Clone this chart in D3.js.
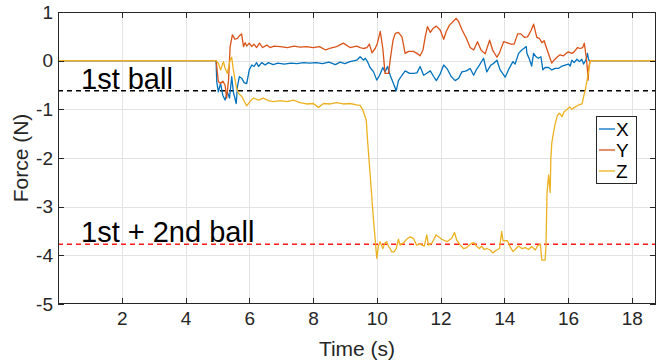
<!DOCTYPE html>
<html>
<head>
<meta charset="utf-8">
<script src="https://cdn.jsdelivr.net/npm/d3@7"></script>
<style>
  html, body { margin: 0; padding: 0; background: #fff; }
  svg { display: block; font-family: "Liberation Sans", Arial, Helvetica, sans-serif; }
</style>
</head>
<body>
<svg id="chart" width="668" height="364"></svg>
<script>
// ---- Data ----
const xTicks = [2, 4, 6, 8, 10, 12, 14, 16, 18];
const yTicks = [1, 0, -1, -2, -3, -4, -5];
const seriesNames = ["X", "Y", "Z"];

const xTime = [0, 4.96, 4.98, 5.03, 5.10, 5.17, 5.24, 5.31, 5.38, 5.45, 5.50, 5.59, 5.63, 5.69, 5.76, 5.84, 5.92, 6.00, 6.08, 6.15, 6.23, 6.29, 6.39, 6.50, 6.60, 6.75, 6.90, 7.10, 7.30, 7.50, 7.70, 7.90, 8.10, 8.30, 8.50, 8.70, 8.85, 9.00, 9.16, 9.37, 9.48, 9.58, 9.64, 9.71, 9.79, 9.90, 10.00, 10.09, 10.19, 10.26, 10.34, 10.42, 10.53, 10.61, 10.68, 10.79, 10.89, 11.03, 11.15, 11.26, 11.36, 11.47, 11.57, 11.68, 11.78, 11.87, 11.99, 12.10, 12.22, 12.33, 12.46, 12.57, 12.67, 12.81, 12.93, 13.04, 13.12, 13.22, 13.35, 13.45, 13.58, 13.66, 13.77, 13.87, 14.03, 14.13, 14.27, 14.34, 14.45, 14.55, 14.69, 14.71, 14.79, 14.86, 14.92, 15.00, 15.07, 15.15, 15.21, 15.28, 15.39, 15.49, 15.60, 15.70, 15.81, 15.91, 16.01, 16.07, 16.12, 16.19, 16.28, 16.36, 16.43, 16.49, 16.57, 16.61, 16.65, 16.69, 18.76];
const xForce = [0, 0, -0.43, -0.64, -0.47, -0.71, -0.81, -0.64, -0.77, -0.33, -0.64, -0.88, -0.53, -0.33, -0.36, -0.45, -0.47, -0.19, -0.09, -0.12, -0.04, -0.12, -0.04, -0.09, -0.04, -0.08, -0.05, -0.07, -0.05, -0.06, -0.04, -0.05, -0.04, -0.06, -0.03, -0.08, -0.03, -0.06, -0.02, 0.01, 0.08, 0.01, 0.05, -0.02, -0.14, -0.23, -0.40, -0.30, -0.14, -0.23, -0.12, -0.30, -0.48, -0.62, -0.41, -0.30, -0.21, -0.26, -0.26, -0.25, -0.12, -0.30, -0.26, -0.21, -0.32, -0.41, -0.27, -0.09, -0.18, -0.32, -0.41, -0.36, -0.23, -0.21, -0.16, -0.30, -0.19, -0.09, 0.05, -0.23, -0.09, -0.06, 0.01, -0.19, -0.34, -0.19, -0.02, -0.07, 0.15, 0.22, 0.29, 0.15, 0.03, -0.11, 0.15, 0.08, 0.05, 0.08, -0.19, -0.14, -0.14, -0.19, -0.16, -0.16, -0.11, -0.09, -0.07, -0.11, 0.01, -0.04, 0.03, -0.02, 0.03, -0.07, 0.03, 0.15, 0.01, 0, 0];

const yTime = [0, 4.96, 5.03, 5.10, 5.17, 5.24, 5.29, 5.35, 5.40, 5.47, 5.55, 5.63, 5.69, 5.76, 5.82, 5.87, 5.92, 6.00, 6.08, 6.15, 6.23, 6.32, 6.42, 6.55, 6.65, 6.78, 6.97, 7.20, 7.40, 7.60, 7.80, 8.00, 8.20, 8.40, 8.55, 8.74, 8.95, 9.16, 9.37, 9.48, 9.58, 9.69, 9.77, 9.85, 9.95, 10.02, 10.11, 10.19, 10.26, 10.37, 10.42, 10.51, 10.58, 10.68, 10.79, 10.89, 11.00, 11.15, 11.26, 11.36, 11.45, 11.52, 11.59, 11.68, 11.76, 11.87, 11.99, 12.10, 12.18, 12.28, 12.39, 12.49, 12.57, 12.67, 12.81, 12.93, 13.04, 13.16, 13.27, 13.40, 13.54, 13.64, 13.77, 13.85, 13.98, 14.08, 14.21, 14.31, 14.42, 14.52, 14.63, 14.73, 14.84, 14.92, 15.02, 15.10, 15.18, 15.25, 15.33, 15.42, 15.49, 15.56, 15.67, 15.75, 15.86, 15.94, 16.01, 16.12, 16.19, 16.30, 16.38, 16.46, 16.51, 16.57, 16.61, 16.63, 16.65, 16.69, 18.76];
const yForce = [0, 0, -0.43, -0.47, -0.42, -0.50, -0.77, -0.40, 0.29, 0.53, 0.44, 0.46, 0.51, 0.55, 0.29, 0.37, 0.30, 0.36, 0.29, 0.34, 0.27, 0.36, 0.27, 0.32, 0.27, 0.30, 0.29, 0.27, 0.30, 0.28, 0.29, 0.27, 0.29, 0.22, 0.26, 0.29, 0.36, 0.27, 0.30, 0.27, 0.25, 0.27, 0.34, 0.16, 0.25, 0.36, 0.60, 0.25, -0.26, -0.26, 0.01, 0.42, 0.56, 0.58, 0.49, 0.15, 0.19, 0.19, 0.15, 0.10, 0.22, 0.49, 0.70, 0.58, 0.66, 0.71, 0.63, 0.44, 0.60, 0.73, 0.80, 0.87, 0.80, 0.64, 0.46, 0.27, 0.22, 0.39, 0.22, 0.14, 0.42, 0.21, 0.07, 0.16, 0.39, 0.37, 0.34, 0.34, 0.55, 0.55, 0.48, 0.49, 0.62, 0.75, 0.48, 0.46, 0.37, 0.41, 0.25, 0.08, -0.05, 0.01, 0.08, 0.12, 0.10, 0.15, 0.18, 0.15, 0.18, 0.27, 0.25, 0.27, 0.36, 0.08, -0.19, -0.40, -0.16, 0, 0];

const zTime = [0, 4.96, 5.03, 5.10, 5.19, 5.24, 5.31, 5.40, 5.45, 5.50, 5.59, 5.66, 5.76, 5.92, 6.02, 6.13, 6.29, 6.44, 6.60, 6.76, 6.97, 7.18, 7.39, 7.59, 7.80, 8.01, 8.17, 8.33, 8.54, 8.74, 8.95, 9.16, 9.37, 9.48, 9.56, 9.67, 9.71, 9.79, 9.89, 10.00, 10.05, 10.10, 10.19, 10.26, 10.31, 10.37, 10.42, 10.47, 10.54, 10.61, 10.68, 10.73, 10.83, 10.94, 11.04, 11.15, 11.25, 11.36, 11.49, 11.57, 11.62, 11.73, 11.86, 11.94, 12.04, 12.20, 12.35, 12.44, 12.51, 12.62, 12.72, 12.82, 12.98, 13.05, 13.14, 13.22, 13.29, 13.37, 13.45, 13.56, 13.64, 13.74, 13.85, 13.92, 13.96, 14.10, 14.18, 14.27, 14.34, 14.45, 14.55, 14.66, 14.76, 14.86, 14.97, 15.04, 15.13, 15.18, 15.28, 15.31, 15.34, 15.39, 15.44, 15.46, 15.49, 15.55, 15.60, 15.67, 15.73, 15.81, 15.88, 15.96, 16.05, 16.12, 16.23, 16.33, 16.44, 16.49, 16.54, 16.59, 16.64, 16.70, 18.76];
const zForce = [0, 0, -0.05, -0.19, -0.02, -0.15, -0.26, 0.01, 0.07, -0.19, -0.53, -0.67, -0.73, -0.93, -0.84, -0.77, -0.81, -0.77, -0.82, -0.84, -0.82, -0.84, -0.81, -0.86, -0.89, -0.88, -0.96, -0.88, -0.89, -0.86, -0.89, -0.88, -0.91, -0.92, -1.01, -1.22, -1.63, -2.32, -3.21, -4.06, -3.82, -3.72, -3.86, -3.74, -3.72, -3.82, -3.86, -3.93, -3.93, -3.86, -3.67, -3.79, -3.75, -3.67, -3.62, -3.65, -3.79, -3.77, -3.81, -3.58, -3.79, -3.75, -3.58, -3.62, -3.67, -3.72, -3.65, -3.53, -3.69, -3.79, -3.86, -3.84, -3.75, -3.74, -3.82, -3.86, -3.81, -3.88, -3.86, -3.89, -3.95, -3.90, -3.86, -3.51, -3.70, -3.70, -3.82, -3.92, -3.88, -3.81, -3.86, -3.84, -3.88, -3.82, -3.89, -3.81, -3.77, -4.10, -4.10, -3.80, -2.73, -2.35, -2.71, -2.04, -1.70, -1.46, -1.29, -1.12, -1.08, -1.15, -1.05, -1.01, -0.95, -1.00, -0.95, -0.91, -0.89, -0.74, -0.60, -0.43, -0.23, 0, 0];

const refLines = [-0.62, -3.77];
const refLabels = ["1st ball", "1st + 2nd ball"];

// ---- Layout ----
const svg = d3.select("#chart");
const L = 58, R = 656, T = 12, B = 304;
const x = d3.scaleLinear().domain([0, 18.76]).range([L, R]);
const y = d3.scaleLinear().domain([-5, 1]).range([B, T]);
const axisColor = "#262626";
const colors = ["#0072BD", "#D95319", "#EDB120"];
const fmt = d => String(d);

svg.append("rect").attr("x", 0).attr("y", 0).attr("width", 668).attr("height", 364).attr("fill", "#fff");

// grid
const grid = svg.append("g").attr("stroke", "#e3e3e3").attr("stroke-width", 1);
grid.selectAll("line.vx").data(xTicks).join("line")
  .attr("x1", d => Math.round(x(d)) + 0.5).attr("x2", d => Math.round(x(d)) + 0.5)
  .attr("y1", T).attr("y2", B);
grid.selectAll("line.hy").data(yTicks.filter(d => d > -5 && d < 1)).join("line")
  .attr("y1", d => Math.round(y(d)) + 0.5).attr("y2", d => Math.round(y(d)) + 0.5)
  .attr("x1", L).attr("x2", R);

// reference dashed lines
const refColors = ["#000000", "#ff1a1a"];
svg.append("g").selectAll("line").data(refLines).join("line")
  .attr("x1", L).attr("x2", R)
  .attr("y1", d => y(d)).attr("y2", d => y(d))
  .attr("stroke", (d, i) => refColors[i]).attr("stroke-width", 1.5)
  .attr("stroke-dasharray", "5,4");

// series
const series = [
  {name: seriesNames[0], t: xTime, v: xForce},
  {name: seriesNames[1], t: yTime, v: yForce},
  {name: seriesNames[2], t: zTime, v: zForce}
];
const line = d3.line().x(d => x(d[0])).y(d => y(d[1]));
svg.append("g").selectAll("path").data(series).join("path")
  .attr("d", s => line(s.t.map((t, i) => [t, s.v[i]])))
  .attr("fill", "none")
  .attr("stroke", (s, i) => colors[i])
  .attr("stroke-width", 1.3)
  .attr("stroke-linejoin", "round");

// axes
const xAxis = d3.axisBottom(x).tickValues(xTicks).tickFormat(fmt).tickSize(0).tickPadding(8);
const gx = svg.append("g").attr("transform", `translate(0,${B})`).call(xAxis);
gx.select(".domain").remove();
gx.selectAll("text").attr("font-size", 19).attr("fill", axisColor)
  .attr("font-family", "Liberation Sans, Arial, sans-serif");

const yAxis = d3.axisLeft(y).tickValues(yTicks).tickFormat(fmt).tickSize(0).tickPadding(5);
const gy = svg.append("g").attr("transform", `translate(${L},0)`).call(yAxis);
gy.select(".domain").remove();
gy.selectAll("text").attr("font-size", 19).attr("fill", axisColor)
  .attr("font-family", "Liberation Sans, Arial, sans-serif");

// ticks on all four sides (inward)
const tk = svg.append("g").attr("stroke", axisColor).attr("stroke-width", 1);
tk.selectAll("line.bx").data(xTicks).join("line")
  .attr("x1", d => Math.round(x(d)) + 0.5).attr("x2", d => Math.round(x(d)) + 0.5)
  .attr("y1", B).attr("y2", B - 6);
tk.selectAll("line.tx").data(xTicks).join("line")
  .attr("x1", d => Math.round(x(d)) + 0.5).attr("x2", d => Math.round(x(d)) + 0.5)
  .attr("y1", T).attr("y2", T + 6);
tk.selectAll("line.ly").data(yTicks).join("line")
  .attr("y1", d => Math.round(y(d)) + 0.5).attr("y2", d => Math.round(y(d)) + 0.5)
  .attr("x1", L).attr("x2", L + 6);
tk.selectAll("line.ry").data(yTicks).join("line")
  .attr("y1", d => Math.round(y(d)) + 0.5).attr("y2", d => Math.round(y(d)) + 0.5)
  .attr("x1", R).attr("x2", R - 6);

// box
svg.append("rect").attr("x", L + 0.5).attr("y", T + 0.5).attr("width", R - L - 1).attr("height", B - T - 1)
  .attr("fill", "none").attr("stroke", axisColor).attr("stroke-width", 1);

// annotations
svg.append("g").selectAll("text").data(refLabels).join("text")
  .attr("x", 81)
  .attr("y", (d, i) => y(refLines[i]) - 2)
  .attr("font-size", 29).attr("fill", "#000")
  .text(d => d);

// axis titles
svg.append("text").attr("x", (L + R) / 2).attr("y", 356).attr("text-anchor", "middle")
  .attr("font-size", 21).attr("fill", axisColor).text("Time (s)");
svg.append("text").attr("transform", `translate(28,${(T + B) / 2}) rotate(-90)`)
  .attr("text-anchor", "middle").attr("font-size", 21).attr("fill", axisColor).text("Force (N)");

// legend
const lg = svg.append("g").attr("transform", "translate(596,116)");
lg.append("rect").attr("x", 0.5).attr("y", 0.5).attr("width", 40).attr("height", 67)
  .attr("fill", "#fff").attr("stroke", axisColor).attr("stroke-width", 1);
const items = lg.selectAll("g.item").data(seriesNames).join("g")
  .attr("transform", (d, i) => `translate(0,${13 + i * 21})`);
items.append("line").attr("x1", 3).attr("x2", 19).attr("y1", 0).attr("y2", 0)
  .attr("stroke", (d, i) => colors[i]).attr("stroke-width", 1.3);
items.append("text").attr("x", 20).attr("y", 7).attr("font-size", 19).attr("fill", "#000").text(d => d);
</script>
</body>
</html>
